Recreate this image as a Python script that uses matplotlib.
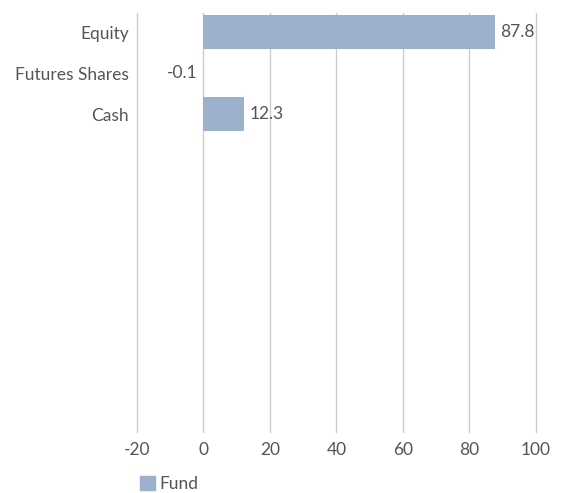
import matplotlib.pyplot as plt
from matplotlib.patches import Patch

# Data
categories = ['Equity', 'Futures Shares', 'Cash']
fund_values = [87.8, -0.1, 12.3]
value_labels = ['87.8', '-0.1', '12.3']
x_ticks = [-20, 0, 20, 40, 60, 80, 100]

bar_color = '#9BB1CC'
text_color = '#555555'

plt.rcParams['font.family'] = ['Lato', 'DejaVu Sans']
fs = 12.5

fig = plt.figure(figsize=(5.66, 4.93), dpi=100)
ax = fig.add_axes([0.242, 0.1237, 0.705, 0.85])

ypos = list(range(len(categories)))
ax.barh(ypos, fund_values, height=0.83, color=bar_color, zorder=2)

for y, v, lab in zip(ypos, fund_values, value_labels):
    if v >= 0:
        ax.annotate(lab, (v, y), xytext=(3.5, 0), textcoords='offset points',
                    va='center', ha='left', fontsize=fs, color=text_color)
    else:
        ax.annotate(lab, (0, y), xytext=(-4, 0), textcoords='offset points',
                    va='center', ha='right', fontsize=fs, color=text_color)

ax.set_xlim(-20, 100)
ax.set_ylim(9.75, -0.47)
ax.set_xticks(x_ticks)
ax.set_xticklabels([str(t) for t in x_ticks])
ax.set_yticks(ypos)
ax.set_yticklabels(categories)
ax.tick_params(length=0, labelsize=fs, labelcolor=text_color)
ax.tick_params(axis='x', pad=7)
ax.tick_params(axis='y', pad=6)
ax.grid(axis='x', color='#cccccc', linewidth=1, zorder=0)
for gl in ax.get_xgridlines():
    gl.set_clip_on(False)
for s in ax.spines.values():
    s.set_visible(False)

fig.legend(handles=[Patch(color=bar_color, label='Fund')],
           loc='lower left', bbox_to_anchor=(0.22, -0.03), frameon=False,
           fontsize=fs, handlelength=0.85, handleheight=0.85, handletextpad=0.25,
           labelcolor=text_color)

fig.savefig('out.png', dpi=100)
